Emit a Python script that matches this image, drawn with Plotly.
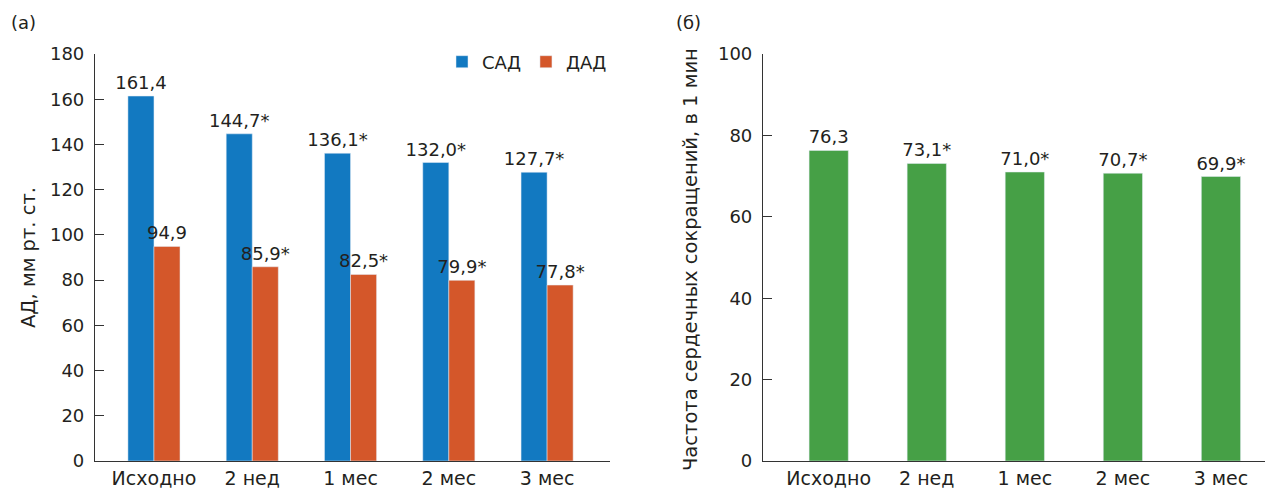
import plotly.graph_objects as go

categories = ["Исходно", "2 нед", "1 мес", "2 мес", "3 мес"]
sad = [161.4, 144.7, 136.1, 132.0, 127.7]
dad = [94.9, 85.9, 82.5, 79.9, 77.8]
hr = [76.3, 73.1, 71.0, 70.7, 69.9]
sad_sig = [False, True, True, True, True]
dad_sig = [False, True, True, True, True]
hr_sig = [False, True, True, True, True]

FONT = "DejaVu Sans"
TXT = "#231f20"
OFF = 8  # default page body margin
W, H = 1273 - OFF, 488 - OFF
T, B = 54 - OFF, 488 - 461
PH = H - T - B


def lab(vals, sig):
    return [f"{v:.1f}".replace(".", ",") + ("*" if s else "") for v, s in zip(vals, sig)]


def px(x):
    return (x - OFF) / W


def py(y):
    return (H - B - (y - OFF)) / PH


tf = dict(family=FONT, size=18, color=TXT)
xf = dict(family=FONT, size=19, color=TXT)
ttf = dict(family=FONT, size=19.5, color=TXT)

fig = go.Figure()
fig.add_trace(go.Bar(x=categories, y=sad, name="САД", marker_color="#1279c1",
                     text=lab(sad, sad_sig), textposition="outside", cliponaxis=False,
                     constraintext="none", textfont=tf, xaxis="x", yaxis="y"))
fig.add_trace(go.Bar(x=categories, y=dad, name="ДАД", marker_color="#d4572a",
                     text=lab(dad, dad_sig), textposition="outside", cliponaxis=False,
                     constraintext="none", textfont=tf, xaxis="x", yaxis="y"))
fig.add_trace(go.Bar(x=categories, y=hr, name="ЧСС", marker_color="#46a046", showlegend=False,
                     text=lab(hr, hr_sig), textposition="outside", cliponaxis=False,
                     constraintext="none", width=0.4, textfont=tf, xaxis="x2", yaxis="y2"))

axis_common = dict(showline=True, linecolor="#333", linewidth=1.2, showgrid=False, zeroline=False,
                   automargin=False)

fig.update_layout(
    width=W, height=H,
    margin=dict(l=0, r=0, t=T, b=B, autoexpand=False),
    paper_bgcolor="white", plot_bgcolor="white",
    barmode="group", bargap=0.47, bargroupgap=0,
    font=tf,
    xaxis=dict(domain=[px(95), px(610)], range=[-0.6, 4.64], ticks="", anchor="y",
               ticklabelstandoff=0, tickfont=xf, **axis_common),
    yaxis=dict(domain=[0, 1], range=[0, 180], dtick=20, ticks="inside", ticklen=9,
               tickcolor="#333", anchor="x", ticklabelstandoff=6, tickfont=tf, **axis_common),
    xaxis2=dict(domain=[px(763), px(1269)], range=[-0.67, 4.49], ticks="", anchor="y2",
                ticklabelstandoff=0, tickfont=xf, **axis_common),
    yaxis2=dict(domain=[0, 1], range=[0, 100], dtick=20, ticks="inside", ticklen=9,
                tickcolor="#333", anchor="x2", ticklabelstandoff=6, tickfont=tf, **axis_common),
    legend=dict(orientation="h", x=px(612), xanchor="right", y=py(62), yanchor="middle",
                font=tf, itemwidth=30, bgcolor="rgba(0,0,0,0)", traceorder="normal"),
    showlegend=True,
)

annots = [
    dict(text="(а)", x=px(9), y=py(22), xanchor="left", yanchor="middle", font=tf),
    dict(text="(б)", x=px(674), y=py(22), xanchor="left", yanchor="middle", font=tf),
    dict(text="АД, мм рт. ст.", x=px(29), y=py(258), xanchor="center", yanchor="middle",
         textangle=-90, font=ttf),
    dict(text="Частота сердечных сокращений, в 1 мин", x=px(690), y=py(260),
         xanchor="center", yanchor="middle", textangle=-90, font=ttf),
]
for a in annots:
    fig.add_annotation(xref="paper", yref="paper", showarrow=False, **a)

fig.write_html("out.html")
